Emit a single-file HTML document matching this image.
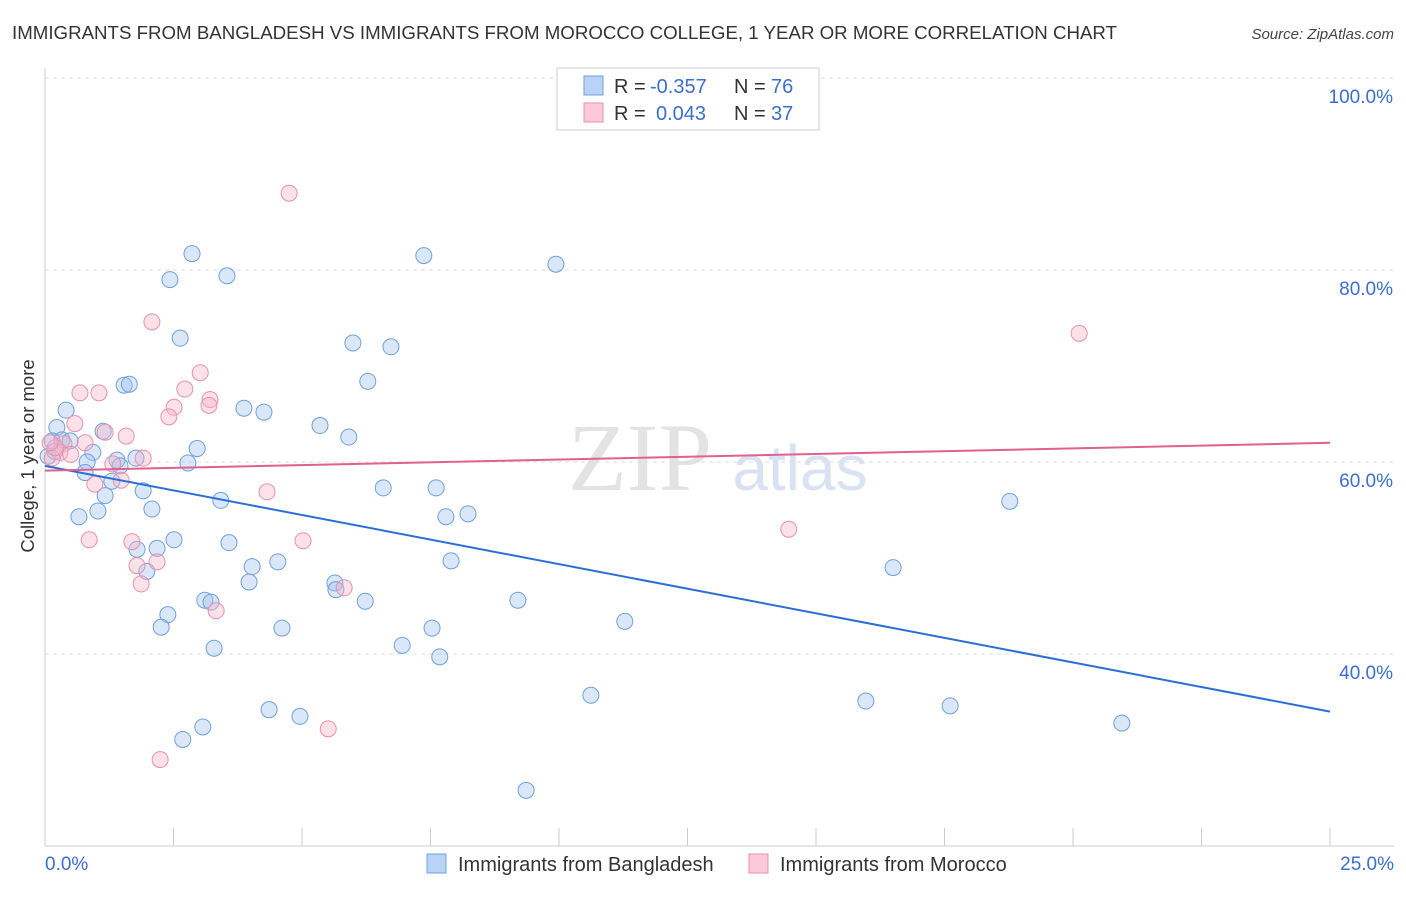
<!DOCTYPE html>
<html><head><meta charset="utf-8"><style>
body{margin:0;background:#fff;font-family:"Liberation Sans",sans-serif}
</style></head><body>
<svg id="chart" width="1406" height="892" xmlns="http://www.w3.org/2000/svg" font-family="Liberation Sans, sans-serif">
<text x="12" y="39" font-size="18" fill="#333" textLength="1105" lengthAdjust="spacingAndGlyphs">IMMIGRANTS FROM BANGLADESH VS IMMIGRANTS FROM MOROCCO COLLEGE, 1 YEAR OR MORE CORRELATION CHART</text>
<text x="1394" y="39" font-size="15" fill="#444" text-anchor="end" font-style="italic">Source: ZipAtlas.com</text>
<g>
<text x="640" y="490" font-size="96" fill="#ddd" font-family="Liberation Serif, serif" text-anchor="middle" opacity="0.8">ZIP</text>
<text x="800" y="490" font-size="64" fill="#cfdcef" text-anchor="middle" opacity="0.8">atlas</text>
</g>
<g id="grid"></g>
<g id="axes"></g>
<g id="pts"></g>
<g id="trend"></g>
<text transform="translate(34,456) rotate(-90)" font-size="18.5" fill="#333" text-anchor="middle">College, 1 year or more</text>
<g>
<rect x="557" y="68" width="262" height="62" fill="#fff" stroke="#ccc"/>
<rect x="584" y="76" width="19" height="19" fill="#b8d3f5" stroke="#6fa0dc"/>
<rect x="584" y="103" width="19" height="19" fill="#fbc9d8" stroke="#e890ac"/>
<text x="614" y="93" font-size="20" fill="#333">R =</text>
<text x="650" y="93" font-size="20" fill="#3a6fd0">-0.357</text>
<text x="734" y="93" font-size="20" fill="#333">N =</text>
<text x="771" y="93" font-size="20" fill="#3a6fd0">76</text>
<text x="614" y="120" font-size="20" fill="#333">R =</text>
<text x="656" y="120" font-size="20" fill="#3a6fd0">0.043</text>
<text x="734" y="120" font-size="20" fill="#333">N =</text>
<text x="771" y="120" font-size="20" fill="#3a6fd0">37</text>
</g>
<g>
<rect x="427" y="854" width="19" height="19" fill="#b8d3f5" stroke="#6fa0dc"/>
<text x="458" y="871" font-size="20" fill="#333">Immigrants from Bangladesh</text>
<rect x="749" y="854" width="19" height="19" fill="#fbc9d8" stroke="#e890ac"/>
<text x="780" y="871" font-size="20" fill="#333">Immigrants from Morocco</text>
</g>
</svg>
<script>
const xTicks=[0,2.5,5,7.5,10,12.5,15,17.5,20,22.5,25];
const yTicks=[40,60,80,100];
const yTickLabels=["40.0%","60.0%","80.0%","100.0%"];
const blueX=[2.86,2.43,3.54,7.37,9.94,2.63,5.99,6.73,6.28,1.54,1.64,0.41,3.87,4.26,5.35,5.91,0.23,1.13,0.93,2.96,2.78,0.82,1.40,1.46,1.77,0.78,1.30,1.91,1.17,6.58,7.61,3.42,18.77,1.03,2.08,0.66,7.80,8.23,2.51,3.58,1.79,2.18,4.53,7.90,4.03,1.98,16.50,3.97,5.64,5.66,3.11,3.23,6.23,9.20,2.39,2.26,4.61,7.53,11.28,3.29,6.95,7.68,10.62,15.97,17.61,20.95,4.36,4.96,3.07,2.68,9.36,0.14,0.33,0.49,0.19,0.06];
const blueY=[81.7,79.0,79.4,81.5,80.6,72.9,72.4,72.0,68.4,68.0,68.1,65.4,65.6,65.2,63.8,62.6,63.6,63.2,61.0,61.4,59.9,60.0,60.2,59.6,60.4,58.9,58.0,57.0,56.5,57.3,57.3,56.0,55.9,54.9,55.1,54.3,54.3,54.6,51.9,51.6,50.9,51.0,49.6,49.7,49.1,48.6,49.0,47.5,47.4,46.7,45.6,45.4,45.5,45.6,44.1,42.8,42.7,42.7,43.4,40.6,40.9,39.7,35.7,35.1,34.6,32.8,34.2,33.5,32.4,31.1,25.8,62.2,62.3,62.2,61.1,60.6];
const pinkX=[4.75,20.12,2.08,3.02,2.72,0.68,1.05,2.51,2.41,3.21,3.19,0.58,1.17,1.58,0.78,0.37,0.29,0.14,1.91,1.32,0.97,1.48,4.32,14.47,0.86,1.69,5.02,2.18,1.79,1.87,5.82,3.33,5.51,2.24,0.2,0.1,0.5];
const pinkY=[88.0,73.4,74.6,69.3,67.6,67.2,67.2,65.7,64.7,66.5,65.9,64.0,63.1,62.7,62.0,61.9,61.0,60.4,60.4,59.8,57.7,58.1,56.9,53.0,51.9,51.7,51.8,49.6,49.2,47.3,46.9,44.5,32.2,29.0,61.5,62.0,60.8];
const blueTrend=[59.6,34.0];
const pinkTrend=[59.1,62.0];
const NS="http://www.w3.org/2000/svg";
const sx=v=>45+v/25*1285;
const sy=v=>78+(100-v)*9.6;
function mk(tag,attrs,parent){const e=document.createElementNS(NS,tag);for(const k in attrs)e.setAttribute(k,attrs[k]);document.getElementById(parent).appendChild(e);return e;}
yTicks.forEach((t,i)=>{
 const g=mk('line',{x1:45,x2:1394,y1:sy(t),y2:sy(t),stroke:'#ddd','stroke-dasharray':'4,4'},'grid');
 
 
 const l=mk('text',{x:1393,y:sy(t)+25,'font-size':19,fill:'#3a6fd0','text-anchor':'end'},'axes');
 l.textContent=yTickLabels[i];
 
 
});
const ax=mk('line',{x1:45,x2:45,y1:68,y2:846,stroke:'#ccc'},'axes');


const bx=mk('line',{x1:45,x2:1394,y1:846,y2:846,stroke:'#ccc'},'axes');


xTicks.forEach(t=>{
 const e=mk('line',{x1:sx(t),x2:sx(t),y1:828,y2:846,stroke:'#ccc'},'axes');
 
 
});
const xl0=mk('text',{x:45,y:870,'font-size':19,fill:'#3a6fd0'},'axes');xl0.textContent='0.0%';


const xl1=mk('text',{x:1394,y:870,'font-size':19,fill:'#3a6fd0','text-anchor':'end'},'axes');xl1.textContent='25.0%';


blueX.forEach((x,i)=>{
 const c=mk('circle',{cx:sx(x),cy:sy(blueY[i]),r:8,fill:'rgba(160,196,240,0.4)',stroke:'#6fa0dc','stroke-width':1},'pts');
 
 
});
pinkX.forEach((x,i)=>{
 const c=mk('circle',{cx:sx(x),cy:sy(pinkY[i]),r:8,fill:'rgba(248,180,200,0.4)',stroke:'#e890ac','stroke-width':1},'pts');
 
 
});
const bt=mk('line',{x1:sx(0),x2:sx(25),y1:sy(blueTrend[0]),y2:sy(blueTrend[1]),stroke:'#2b6fd6','stroke-width':2},'trend');


const pt=mk('line',{x1:sx(0),x2:sx(25),y1:sy(pinkTrend[0]),y2:sy(pinkTrend[1]),stroke:'#e0608e','stroke-width':2},'trend');


</script>
</body></html>
